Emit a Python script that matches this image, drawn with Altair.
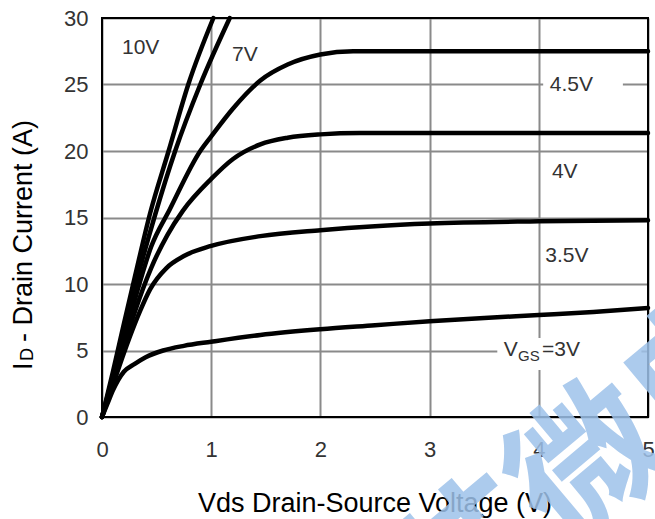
import altair as alt
import pandas as pd

# ---- data ----
v_3 = [0, 0.05, 0.1, 0.2, 0.3, 0.4, 0.56, 0.75, 1.0, 1.45, 2.0, 2.5, 3.0, 3.5, 4.0, 4.5, 5.0]
i_3 = [0, 1.0, 2.0, 3.4, 4.0, 4.5, 5.0, 5.35, 5.66, 6.17, 6.6, 6.9, 7.2, 7.45, 7.67, 7.9, 8.2]

v_35 = [0, 0.1, 0.2, 0.3, 0.35, 0.44, 0.59, 0.75, 1.0, 1.45, 2.0, 2.5, 3.0, 4.0, 5.0]
i_35 = [0, 2.4, 4.8, 7.0, 8.0, 9.6, 11.2, 12.1, 12.86, 13.6, 14.05, 14.35, 14.55, 14.72, 14.8]

v_4 = [0, 0.1, 0.2, 0.3, 0.45, 0.6, 0.74, 1.0, 1.2, 1.45, 1.7, 2.0, 2.36, 5.0]
i_4 = [0, 2.6, 5.3, 7.9, 11.2, 13.7, 15.5, 17.9, 19.4, 20.5, 21.0, 21.25, 21.35, 21.35]

v_45 = [0, 0.1, 0.2, 0.3, 0.45, 0.62, 0.9, 1.0, 1.2, 1.45, 1.7, 2.0, 2.3, 5.0]
i_45 = [0, 2.8, 5.8, 8.8, 12.8, 15.6, 20.0, 21.1, 23.2, 25.3, 26.5, 27.25, 27.5, 27.5]

v_7 = [0, 0.1, 0.2, 0.3, 0.49, 0.67, 0.9, 1.17]
i_7 = [0, 3.1, 6.4, 9.7, 15.3, 20.0, 25.0, 30.0]

v_10 = [0, 0.1, 0.2, 0.3, 0.44, 0.61, 0.79, 1.02]
i_10 = [0, 3.4, 7.0, 10.5, 15.3, 20.0, 25.0, 30.0]

x_ticks = [0, 1, 2, 3, 4, 5]
y_ticks = [0, 5, 10, 15, 20, 25, 30]

label_text = ["10V", "7V", "4.5V", "4V", "3.5V"]
label_x = [0.183, 1.19, 4.10, 4.12, 4.06]
label_y = [27.74, 27.2, 24.96, 18.42, 12.1]

vgs_text = ["V", "GS", "=3V"]
vgs_x = [3.68, 3.81, 4.03]
vgs_y = [5.04, 4.55, 5.04]
vgs_size = [21, 15, 21]

# white boxes behind labels (data coords)
box_x = [4.04, 3.62]
box_x2 = [4.77, 4.94]
box_y = [23.9, 3.53]
box_y2 = [26.1, 5.94]

series = [("3V", v_3, i_3), ("3.5V", v_35, i_35), ("4V", v_4, i_4),
          ("4.5V", v_45, i_45), ("7V", v_7, i_7), ("10V", v_10, i_10)]
rows = []
for name, vs, iis in series:
    for k, (a, b) in enumerate(zip(vs, iis)):
        rows.append({"s": name, "v": a, "i": b, "o": k})
curves = pd.DataFrame(rows)

FONT = "Liberation Sans"
W, H = 546, 399

xs = alt.Scale(domain=[0, 5], nice=False)
ys = alt.Scale(domain=[0, 30], nice=False)

x_axis = alt.Axis(
    values=x_ticks, grid=True, gridColor="#8a8a8a", gridWidth=2, domain=False,
    ticks=False, labelPadding=22, labelFontSize=22, labelColor="#333",
    labelFont=FONT, title=None, labelFlush=False)
y_axis = alt.Axis(
    values=y_ticks, grid=True, gridColor="#8a8a8a", gridWidth=2, domain=False,
    ticks=False, labelPadding=14, labelFontSize=22, labelColor="#333",
    labelFont=FONT, title=None, labelFlush=False)

lines = alt.Chart(curves).mark_line(color="black", strokeWidth=4.5, interpolate="monotone",
                                    strokeCap="round").encode(
    x=alt.X("v:Q", scale=xs, axis=x_axis), y=alt.Y("i:Q", scale=ys, axis=y_axis),
    detail="s:N", order="o:Q")

boxes = alt.Chart(pd.DataFrame({"v": box_x, "v2": box_x2, "i": box_y, "i2": box_y2})).mark_rect(
    color="white").encode(
    x=alt.X("v:Q", scale=xs, axis=x_axis), x2="v2:Q",
    y=alt.Y("i:Q", scale=ys, axis=y_axis), y2="i2:Q")

frame = alt.Chart(pd.DataFrame({"t": [0]})).mark_rect(
    filled=False, stroke="black", strokeWidth=2).encode(
    x=alt.value(0), x2=alt.value(W), y=alt.value(0), y2=alt.value(H))

labels = alt.Chart(pd.DataFrame({"t": label_text, "v": label_x, "i": label_y})).mark_text(
    align="left", baseline="middle", font=FONT, fontSize=21, color="#333").encode(
    x=alt.X("v:Q", scale=xs, axis=x_axis), y=alt.Y("i:Q", scale=ys, axis=y_axis), text="t:N")

vgs = alt.Chart(pd.DataFrame({"t": vgs_text, "v": vgs_x, "i": vgs_y, "fs": vgs_size})).mark_text(
    align="left", baseline="middle", font=FONT, color="#333").encode(
    x=alt.X("v:Q", scale=xs, axis=x_axis), y=alt.Y("i:Q", scale=ys, axis=y_axis), text="t:N",
    size=alt.Size("fs:Q", scale=None, legend=None))


def ptext(t, px, py, fs, angle=0, color="black", align="left"):
    kw = dict(align=align, baseline="alphabetic", font=FONT, fontSize=fs, color=color)
    if angle:
        kw["angle"] = angle
    return alt.Chart(pd.DataFrame({"t": [t]})).mark_text(**kw).encode(
        x=alt.value(px), y=alt.value(py), text="t:N")


xtitle = ptext("Vds Drain-Source Voltage (V)", W / 2, 494, 27, align="center")
yt1 = ptext("I", -70, 352, 27, angle=270)
yt2 = ptext("D", -69, 343, 18, angle=270)
yt3 = ptext("- Drain Current (A)", -70, 324, 27, angle=270)

watermark = alt.Chart(pd.DataFrame({"t": ["芯微电"]})).mark_text(
    align="center", baseline="middle", font="Noto Sans CJK SC", fontWeight="bold",
    fontSize=150, color="#9ec2ea", opacity=0.85, angle=320).encode(
    x=alt.value(490), y=alt.value(450), text="t:N")

chart = alt.layer(lines, boxes, frame, labels, vgs, xtitle, yt1, yt2, yt3, watermark).properties(
    width=W, height=H,
    autosize=alt.AutoSizeParams(type="none"),
    padding={"left": 102, "top": 18, "right": 7, "bottom": 102},
    background="white",
).configure_view(stroke=None).configure_axis(labelFont=FONT)

chart.save("out.html", embed_options={"renderer": "svg", "actions": False})
